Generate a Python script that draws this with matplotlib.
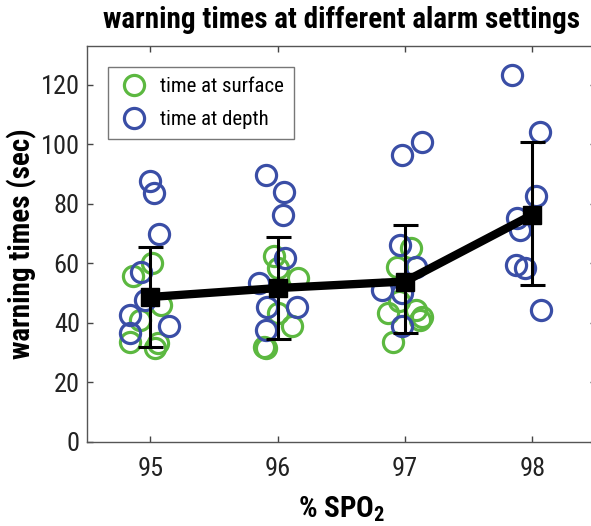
import matplotlib
matplotlib.use("Agg")
import matplotlib.pyplot as plt
from matplotlib import font_manager

names = {f.name for f in font_manager.fontManager.ttflist}
prefs = ['Roboto Condensed', 'Liberation Sans Narrow', 'Nimbus Sans Narrow',
         'Archivo Narrow', 'Open Sans Condensed', 'Barlow Semi Condensed',
         'Asap Condensed', 'DejaVu Sans']
fam = next(p for p in prefs if p in names or p == 'DejaVu Sans')
plt.rcParams['font.family'] = [fam, 'DejaVu Sans']
plt.rcParams['mathtext.fontset'] = 'custom'
plt.rcParams['mathtext.rm'] = fam
plt.rcParams['mathtext.bf'] = fam + ':bold'
plt.rcParams['mathtext.default'] = 'regular'

# data
surface_x = [94.86, 95.01, 95.08, 94.92, 94.84, 95.04, 95.06,
             95.97, 96.0, 96.16, 96.0, 96.11, 95.89, 95.91,
             96.94, 97.05, 96.95, 97.09, 96.87, 97.12, 97.13, 96.91]
surface_y = [55.6, 60.1, 46.0, 41.0, 33.7, 31.5, 33.3,
             62.3, 58.4, 55.0, 43.3, 38.8, 32.0, 31.5,
             58.9, 65.1, 47.2, 44.4, 43.3, 41.0, 42.0, 33.7]
depth_x = [95.0, 95.03, 95.07, 94.93, 94.96, 94.84, 94.84, 95.15,
           95.91, 96.05, 96.04, 96.06, 95.85, 95.92, 96.15, 95.91,
           96.98, 97.13, 96.96, 97.09, 96.82, 96.98, 96.98,
           97.84, 98.06, 98.03, 97.88, 97.9, 97.87, 97.94, 98.07]
depth_y = [87.5, 83.6, 69.9, 57.2, 47.7, 42.7, 36.5, 38.8,
           89.7, 84.1, 76.3, 61.7, 53.3, 45.5, 45.5, 37.6,
           96.5, 100.6, 66.2, 58.9, 51.1, 50.0, 38.8,
           123.4, 104.0, 82.5, 75.2, 71.3, 59.5, 58.4, 44.4]
settings = [95, 96, 97, 98]
means = [48.7, 51.7, 53.9, 76.3]
err_low = [16.9, 17.2, 17.4, 23.5]
err_high = [16.7, 17.1, 19.0, 24.4]

green = '#5cb840'
blue = '#3a4ea6'

fig = plt.figure(figsize=(5.91, 5.26), dpi=100)
ax = fig.add_axes([0.1467, 0.1597, 0.8616, 0.7529])

ax.plot(surface_x, surface_y, 'o', mfc='none', mec=green, ms=14.5, mew=2.3,
        label='time at surface', zorder=2)
ax.plot(depth_x, depth_y, 'o', mfc='none', mec=blue, ms=14.5, mew=2.3,
        label='time at depth', zorder=2)
ax.errorbar(settings, means, yerr=[err_low, err_high], fmt='none', ecolor='black',
            elinewidth=2.2, capsize=9, capthick=2.2, zorder=3)
ax.plot(settings, means, '-s', color='black', lw=6, ms=12.5, zorder=4)

ax.set_xlim(94.5, 98.5)
ax.set_ylim(0, 133)
ax.set_xticks(settings)
ax.set_yticks([0, 20, 40, 60, 80, 100, 120])
ax.tick_params(direction='in', length=4, width=1, colors='#444444',
               labelcolor='#222222', labelsize=19, top=True, right=True)
ax.tick_params(axis='x', pad=11)
ax.tick_params(axis='y', pad=5)
for s in ax.spines.values():
    s.set_color('#555555')
    s.set_linewidth(1)

ax.set_title('warning times at different alarm settings', fontsize=21,
             fontweight='heavy', pad=13)
ax.set_xlabel(r'% SPO$\mathbf{_2}$', fontsize=21, fontweight='heavy', labelpad=9)
ax.set_ylabel('warning times (sec)', fontsize=21, fontweight='heavy', labelpad=3)

leg = ax.legend(loc='upper left', bbox_to_anchor=(0.042, 0.947), fontsize=15,
                frameon=True, fancybox=False, edgecolor='#555555',
                handletextpad=0.5, borderpad=0.5, labelspacing=0.65,
                handlelength=1.5, borderaxespad=0)
leg.get_frame().set_linewidth(1)

fig.savefig('out.png', dpi=100)
